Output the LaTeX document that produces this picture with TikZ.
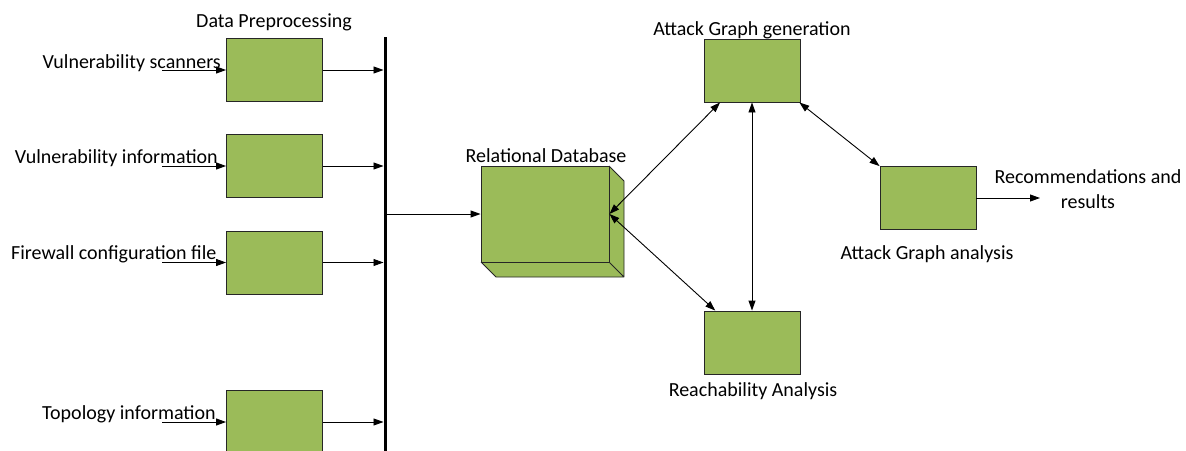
\documentclass[tikz,border=0pt]{standalone}
\usepackage{fontspec}
\setmainfont{Carlito}
\usetikzlibrary{arrows.meta}
\definecolor{boxgreen}{HTML}{9BBB59}
\begin{document}
\begin{tikzpicture}[x=1pt,y=-1pt,
  box/.style={draw=black!85, fill=boxgreen, line width=0.9pt, minimum width=96pt, minimum height=63pt, inner sep=0},
  lbl/.style={inner sep=0, font=\fontsize{20}{25}\selectfont},
  arr/.style={line width=0.9pt, -{Triangle[length=10pt,width=7pt]}},
  darr/.style={line width=0.9pt, {Triangle[length=10pt,width=7pt]}-{Triangle[length=10pt,width=7pt]}}]
\useasboundingbox (0,0) rectangle (1186,450);

% left boxes
\node[box] (b1) at (274.5,70) {};
\node[box] (b2) at (274.5,166) {};
\node[box] (b3) at (274.5,262.5) {};
\node[box] (b4) at (274.5,422) {};

\node[lbl, anchor=base] (dp) at (274,27) {Data Preprocessing};
\node[lbl, anchor=base east] (l1) at (221,68) {Vulnerability scanners};
\node[lbl, anchor=base east] (l2) at (218,163) {Vulnerability information};
\node[lbl, anchor=base west] (l3) at (11,259) {Firewall configuration file};
\node[lbl, anchor=base west] (l4) at (42,419) {Topology information};

\coordinate (i1) at (162,70);
\coordinate (i2) at (162,166);
\coordinate (i3) at (162,262.5);
\coordinate (i4) at (162,422);
\draw[arr] (i1) -- (b1.west);
\draw[arr] (i2) -- (b2.west);
\draw[arr] (i3) -- (b3.west);
\draw[arr] (i4) -- (b4.west);

% bus
\coordinate (bt) at (385,37);
\coordinate (bb) at (385,455);
\draw[line width=3pt] (bt) -- (bb);
\draw[arr, shorten >=1.5pt] (b1.east) -- (b1.east -| bt);
\draw[arr, shorten >=1.5pt] (b2.east) -- (b2.east -| bt);
\draw[arr, shorten >=1.5pt] (b3.east) -- (b3.east -| bt);
\draw[arr, shorten >=1.5pt] (b4.east) -- (b4.east -| bt);

% relational database (3D box)
\fill[boxgreen] (481,166) -- (609,166) -- (624,181) -- (624,277) -- (496,277) -- (481,262) -- cycle;
\draw[black!85, line width=0.9pt, line join=round] (609,166) -- (624,181) -- (624,277) -- (496,277) -- (481,262)
  (609,262) -- (624,277);
\node[box, minimum width=128pt, minimum height=96pt] (db) at (545,214) {};
\node[lbl, anchor=base] (dbl) at (546,162) {Relational Database};
\draw[arr, shorten <=1.5pt] (bt |- db.west) -- (db.west);

% right boxes
\node[box] (ag) at (752,70.5) {};
\node[lbl, anchor=base] (agl) at (752,35) {Attack Graph generation};
\node[box] (aga) at (928,198) {};
\node[lbl, anchor=base] (agal) at (927,259) {Attack Graph analysis};
\node[box] (rc) at (752,342.5) {};
\node[lbl, anchor=base] (rcl) at (753,396) {Reachability Analysis};

\draw[darr] (db.east) -- (ag.225);
\draw[darr] (db.east) -- (rc.139);
\draw[darr] (ag.south) -- (rc.north);
\draw[darr] (ag.-34) -- (aga.north west);

\coordinate (out) at (1040,198);
\draw[arr] (aga.east) -- (out);
\node[lbl, align=center, anchor=base] (rec) at (1088,208) {Recommendations and\\results};
\end{tikzpicture}
\end{document}
